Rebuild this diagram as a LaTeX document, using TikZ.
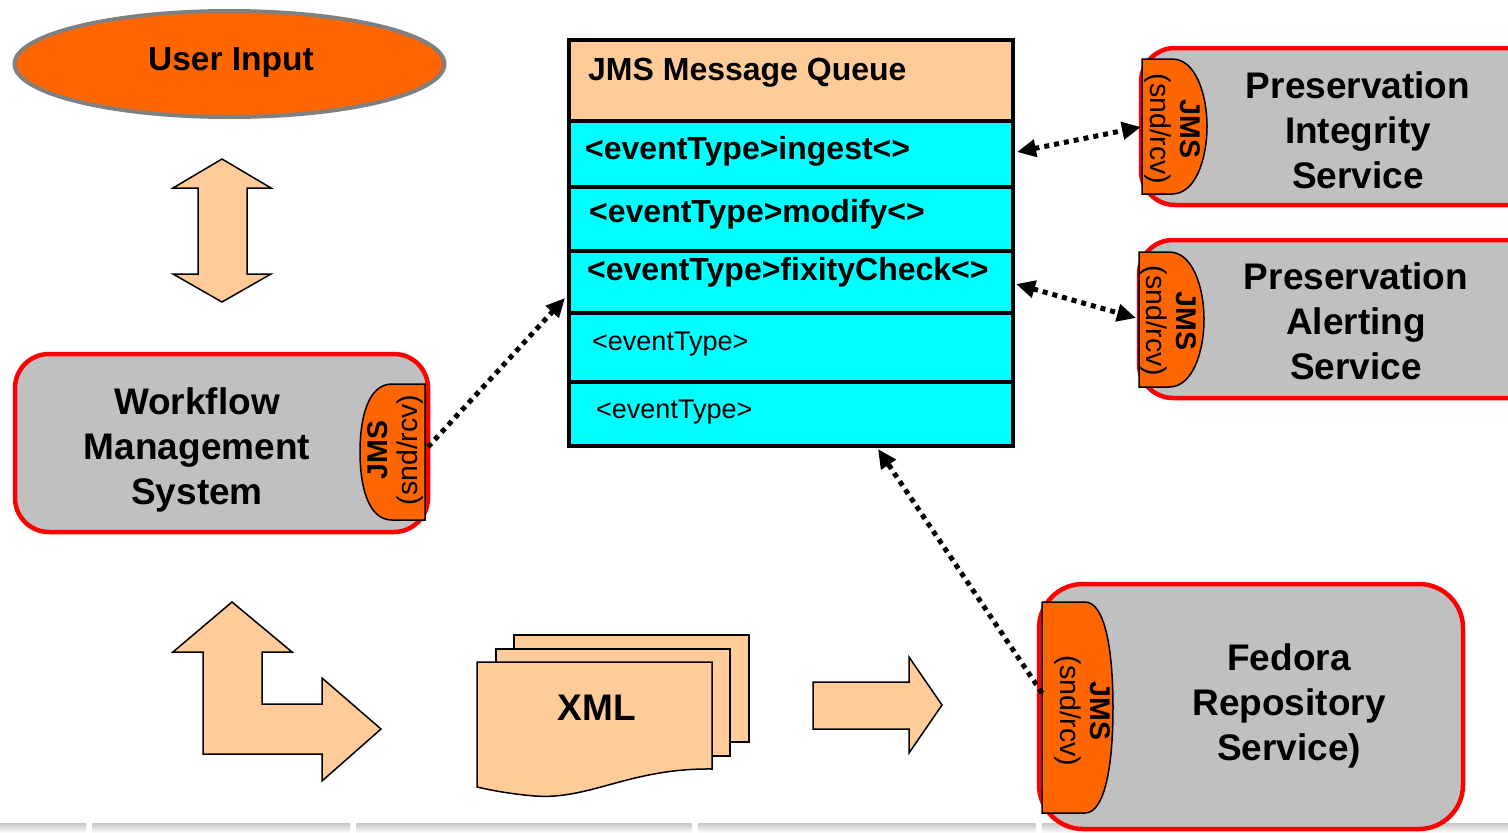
\documentclass[tikz,border=0pt]{standalone}
\usepackage{fontspec}
\setmainfont{Liberation Sans}
\usetikzlibrary{arrows.meta,shapes.geometric}
\definecolor{orng}{HTML}{FF6600}
\definecolor{peach}{HTML}{FFCC99}
\definecolor{cyn}{HTML}{00FFFF}
\definecolor{gry}{HTML}{C0C0C0}
\definecolor{redb}{HTML}{FF0000}
\definecolor{elb}{HTML}{808080}
\begin{document}
\begin{tikzpicture}[x=1pt,y=-1pt,
  svcbox/.style={draw=redb,line width=4.5pt,fill=gry,rounded corners=34pt},
  tabshape/.style={draw=black,line width=1.5pt,fill=orng},
  bigtxt/.style={font=\fontsize{37}{45}\selectfont\bfseries,align=center,inner sep=0pt},
  tabtxt/.style={font=\fontsize{28.5}{30}\selectfont,align=center,inner sep=0pt},
  qbox/.style={draw=black,line width=4pt,minimum width=444pt,anchor=north west,inner sep=0pt,outer sep=0pt},
  qbold/.style={font=\fontsize{32}{36}\selectfont\bfseries,anchor=base west,inner sep=0pt},
  qplain/.style={font=\fontsize{27}{30}\selectfont,anchor=base west,inner sep=0pt},
  fatarrow/.style={draw=black,line width=1.5pt,fill=peach,line join=miter},
  dotlink/.style={line width=5pt,dash pattern=on 5pt off 5pt},
  tipend/.style={-{Triangle[length=19pt,width=17pt]}},
  tipboth/.style={{Triangle[length=19pt,width=17pt]}-{Triangle[length=19pt,width=17pt]}},
]
\clip (0,0) rectangle (1508,833);
\useasboundingbox (0,0) rectangle (1508,833);
\fill[white] (0,0) rectangle (1508,833);

% bottom strip
\foreach \a/\b in {0/86, 92/350, 356/692, 698/1036, 1042/1508}{
  \shade[top color=gray!45, bottom color=white] (\a,823) rectangle (\b,833);
}

% User input
\draw[draw=elb,line width=4pt,fill=orng] (229.5,64) ellipse [x radius=215, y radius=53];
\node[font=\fontsize{33.5}{36}\selectfont\bfseries,anchor=base,inner sep=0pt] (user) at (231,70) {User Input};

% vertical double arrow
\draw[fatarrow] (222,159) -- (271,188) -- (247,188) -- (247,274) -- (271,274) -- (222,302)
  -- (173,274) -- (198,274) -- (198,188) -- (173,188) -- cycle;

% Workflow box
\draw[svcbox] (15,354) rectangle (428,532);
\node[bigtxt] (wf) at (197,450) {Workflow\\Management\\System};
\draw[tabshape] (425,384) -- (392,384) .. controls (368,384) and (360,418) .. (360,452)
  .. controls (360,486) and (368,520) .. (392,520) -- (425,520) -- cycle;
\node[tabtxt,rotate=90] (wfjms) at (395,450) {\bfseries JMS\\(snd/rcv)};

% Integrity box
\draw[svcbox] (1141,48) rectangle (1545,205);
\node[bigtxt] (pi) at (1358,130) {Preservation\\Integrity\\Service};
\draw[tabshape] (1142,59) -- (1172,59) .. controls (1196,59) and (1207,95) .. (1207,126.5)
  .. controls (1207,158) and (1196,194) .. (1172,194) -- (1142,194) -- cycle;
\node[tabtxt,rotate=-90] (pijms) at (1172,129) {\bfseries JMS\\(snd/rcv)};

% Alerting box
\draw[svcbox] (1139,240) rectangle (1545,398);
\node[bigtxt] (pa) at (1356,321) {Preservation\\Alerting\\Service};
\draw[tabshape] (1139,252) -- (1169,252) .. controls (1193,252) and (1204,288) .. (1204,319.5)
  .. controls (1204,351) and (1193,387) .. (1169,387) -- (1139,387) -- cycle;
\node[tabtxt,rotate=-90] (pajms) at (1168,321) {\bfseries JMS\\(snd/rcv)};

% Fedora box
\draw[svcbox,rounded corners=44pt] (1039,584) rectangle (1463,829);
\node[bigtxt] (fr) at (1289,706) {Fedora\\Repository\\Service)};
\draw[tabshape] (1042,602) -- (1085,602) .. controls (1105,602) and (1113,650) .. (1113,707.5)
  .. controls (1113,765) and (1105,813) .. (1085,813) -- (1042,813) -- cycle;
\node[tabtxt,rotate=-90] (frjms) at (1082,711) {\bfseries JMS\\(snd/rcv)};

% JMS message queue
\node[qbox,fill=peach,minimum height=81pt] (qh) at (569,40) {};
\node[qbox,fill=cyn,minimum height=66pt] (q1) at (569,121) {};
\node[qbox,fill=cyn,minimum height=64pt] (q2) at (569,187) {};
\node[qbox,fill=cyn,minimum height=62pt] (q3) at (569,251) {};
\node[qbox,fill=cyn,minimum height=69pt] (q4) at (569,313) {};
\node[qbox,fill=cyn,minimum height=64pt] (q5) at (569,382) {};
\node[qbold] (qht) at (588,80) {JMS Message Queue};
\node[qbold] (q1t) at (585,159) {<eventType>ingest<>};
\node[qbold] (q2t) at (589,222) {<eventType>modify<>};
\node[qbold] (q3t) at (587,280) {<eventType>fixityCheck<>};
\node[qplain] (q4t) at (592,350) {<eventType>};
\node[qplain] (q5t) at (596,418) {<eventType>};

% L-shaped arrow
\draw[fatarrow] (232,602) -- (292,652) -- (262,652) -- (262,704) -- (322,704) -- (322,678)
  -- (381,729) -- (322,781) -- (322,754) -- (203,754) -- (203,652) -- (173,652) -- cycle;

% XML documents
\draw[fatarrow] (514,635) rectangle (749,742);
\draw[fatarrow] (496,649) rectangle (730,756);
\draw[fatarrow] (477,662) -- (712,662) -- (712,769) .. controls (630,768) and (590,800) .. (535,796)
  .. controls (510,794) and (490,790) .. (477,787) -- cycle;
\node[font=\fontsize{37}{45}\selectfont\bfseries,inner sep=0pt] (xml) at (597,708) {XML};

% right arrow
\draw[fatarrow] (813,682) -- (909,682) -- (909,657) -- (942,705) -- (909,753) -- (909,729)
  -- (813,729) -- cycle;

% connection points
\coordinate (wfport) at (428,447);
\coordinate (qin) at (565,298);
\coordinate (q1port) at (1017,152);
\coordinate (piport) at (1141,127);
\coordinate (q3port) at (1016,284);
\coordinate (paport) at (1136,318);
\coordinate (frport) at (1042,693);
\coordinate (qbot) at (878,449);

\draw[dotlink,tipend] (wfport) -- (qin);
\draw[dotlink,tipboth] (q1port) -- (piport);
\draw[dotlink,tipboth] (q3port) -- (paport);
\draw[dotlink,tipend] (frport) -- (qbot);
\end{tikzpicture}
\end{document}
